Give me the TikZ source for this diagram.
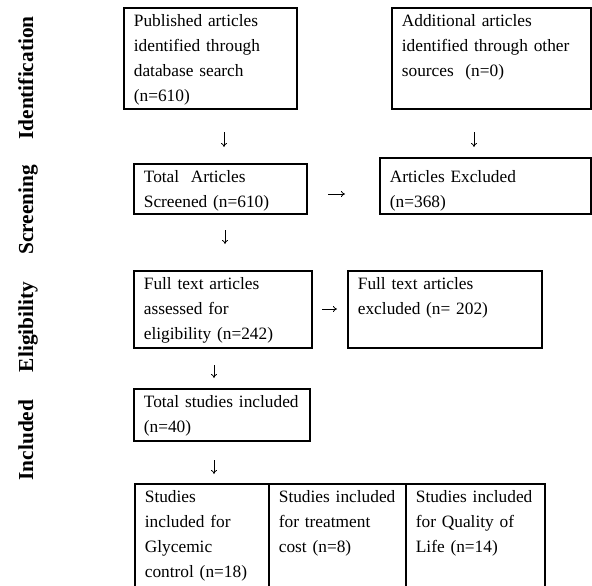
\documentclass[tikz,border=0pt]{standalone}
\usepackage{fontspec}
\setmainfont{Liberation Serif}
\usetikzlibrary{arrows.meta,positioning}

\begin{document}
\begin{tikzpicture}[x=0.75pt,y=-0.75pt,
    stagebox/.style={draw, line width=1.3pt, anchor=north west, align=left,
        inner xsep=7.5pt, inner ysep=4pt, text height=10pt,
        font=\fontsize{13}{18.75}\selectfont},
    phase/.style={rotate=90, anchor=base, inner sep=0pt,
        font=\fontsize{16}{19}\selectfont\bfseries},
    arr/.style={-{To[length=3pt,width=4.5pt]}, line width=0.6pt}]
    \useasboundingbox (0,0) rectangle (592,585);
    \clip (0,0) rectangle (592,585);

    \node[phase] (identification) at (33,78) {Identification};
    \node[phase] (screening) at (33,210) {Screening};
    \node[phase] (eligibility) at (33,327) {Eligibility};
    \node[phase] (included) at (33,440) {Included};

    \node[stagebox, text width=114.75pt, text depth=57.75pt] (published) at (123,7)
        {Published articles\\identified through\\database search\\(n=610)};
    \node[stagebox, text width=134.25pt, text depth=57.75pt] (additional) at (391,7)
        {Additional articles\\identified through other\\sources\ \ (n=0)};
    \node[stagebox, text width=114.75pt, text depth=19.5pt] (screened) at (133,163)
        {Total\ \ Articles\\Screened (n=610)};
    \node[stagebox, text width=143.25pt, text height=14.5pt, text depth=19.5pt] (excluded) at (379,157)
        {Articles Excluded\\(n=368)};
    \node[stagebox, text width=118.5pt, text depth=39.75pt] (assessed) at (133,270)
        {Full text articles\\assessed for\\eligibility (n=242)};
    \node[stagebox, text width=130.5pt, text depth=39.75pt] (ftexcluded) at (347,270)
        {Full text articles\\excluded (n= 202)};
    \node[stagebox, text width=117pt, text depth=21pt] (total) at (133,388)
        {Total studies included\\(n=40)};
    \node[stagebox, text width=85.5pt, text depth=63.75pt] (glycemic) at (134,483)
        {Studies\\included for\\Glycemic\\control (n=18)};
    \node[stagebox, text width=87.75pt, text depth=63.75pt] (cost) at (268,483)
        {Studies included\\for treatment\\cost (n=8)};
    \node[stagebox, text width=89.25pt, text depth=63.75pt] (quality) at (405,483)
        {Studies included\\for Quality of\\Life (n=14)};

    \coordinate (d1a) at (224,132); \coordinate (d1b) at (224,147);
    \coordinate (d2a) at (474,132); \coordinate (d2b) at (474,147);
    \coordinate (d3a) at (225,230); \coordinate (d3b) at (225,244);
    \coordinate (r1a) at (328,194); \coordinate (r1b) at (345,194);
    \coordinate (r2a) at (322,309); \coordinate (r2b) at (337,309);
    \coordinate (d4a) at (214,365); \coordinate (d4b) at (214,378);
    \coordinate (d5a) at (214,460); \coordinate (d5b) at (214,474);

    \draw[arr] (d1a) -- (d1b);
    \draw[arr] (d2a) -- (d2b);
    \draw[arr] (d3a) -- (d3b);
    \draw[arr] (r1a) -- (r1b);
    \draw[arr] (r2a) -- (r2b);
    \draw[arr] (d4a) -- (d4b);
    \draw[arr] (d5a) -- (d5b);
\end{tikzpicture}
\end{document}
